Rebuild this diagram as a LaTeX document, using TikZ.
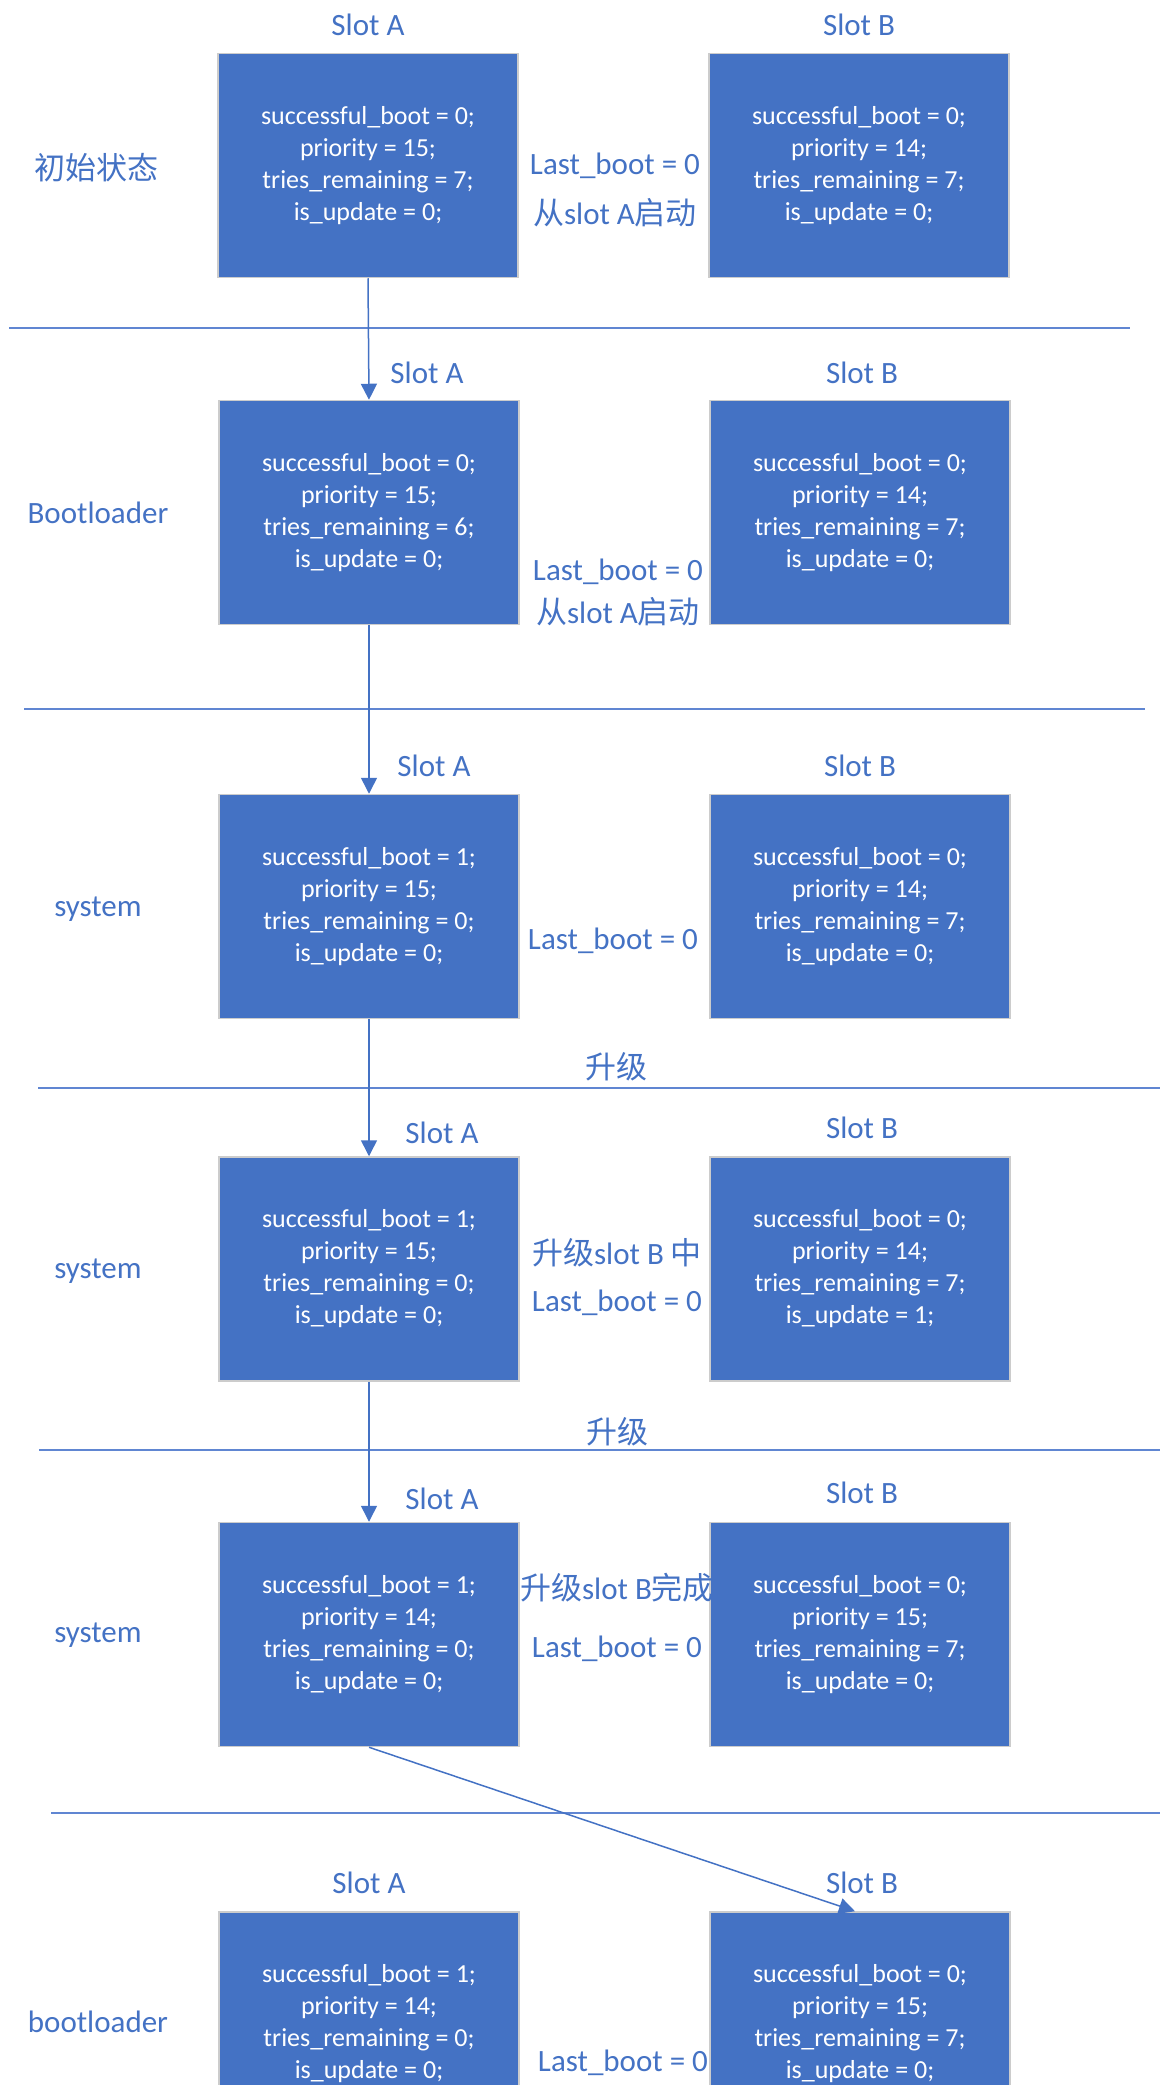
\documentclass[tikz,border=0pt]{standalone}
\usepackage{fontspec}
\setmainfont{Carlito}
\newfontfamily\cjk{Noto Sans CJK SC}
\usetikzlibrary{arrows.meta,positioning}
\definecolor{slotblue}{RGB}{68,114,196}
\definecolor{lineblue}{RGB}{96,134,210}
\tikzset{%
	slot/.style  = {draw=gray!40, line width=1.5pt, fill=slotblue, minimum width=300pt, minimum height=224pt, inner sep=0pt, text=white, align=center, font=\fontsize{26}{32}\selectfont},
	lbl/.style   = {text=slotblue, inner sep=0pt, font=\fontsize{31}{37}\selectfont},
	sep/.style   = {lineblue, line width=2.5pt},
	arrow/.style = {slotblue, line width=1.5pt, -{Triangle[width=16pt,length=16pt]}},
}
\begin{document}
\begin{tikzpicture}[x=1pt,y=-1pt]
	\useasboundingbox (0,0) rectangle (1160,2085);
	\clip (0,0) rectangle (1160,2085);

	\node[slot] (a1) at (368,165.5) {successful\_boot = 0;\\priority = 15;\\tries\_remaining = 7;\\is\_update = 0;};
	\node[slot] (b1) at (859,165.5) {successful\_boot = 0;\\priority = 14;\\tries\_remaining = 7;\\is\_update = 0;};
	\node[lbl] (sa1) at (368,25) {Slot A};
	\node[lbl] (sb1) at (859,25) {Slot B};
	\node[lbl] (st1) at (96,168) {\cjk 初始状态};
	\node[lbl] (lb1) at (615,166) {Last\_boot = 0};
	\node[lbl] (fr1) at (615,213) {{\cjk 从}slot A{\cjk 启动}};
	\draw[sep] (9,328) -- (1130,328);

	\node[slot] (a2) at (369,512.5) {successful\_boot = 0;\\priority = 15;\\tries\_remaining = 6;\\is\_update = 0;};
	\node[slot] (b2) at (860,512.5) {successful\_boot = 0;\\priority = 14;\\tries\_remaining = 7;\\is\_update = 0;};
	\node[lbl] (sa2) at (427,373) {Slot A};
	\node[lbl] (sb2) at (862,373) {Slot B};
	\node[lbl] (st2) at (98,513) {Bootloader};
	\node[lbl] (lb2) at (618,572) {Last\_boot = 0};
	\node[lbl] (fr2) at (618,612) {{\cjk 从}slot A{\cjk 启动}};
	\draw[sep] (24,709) -- (1145,709);

	\node[slot] (a3) at (369,906.5) {successful\_boot = 1;\\priority = 15;\\tries\_remaining = 0;\\is\_update = 0;};
	\node[slot] (b3) at (860,906.5) {successful\_boot = 0;\\priority = 14;\\tries\_remaining = 7;\\is\_update = 0;};
	\node[lbl] (sa3) at (434,766) {Slot A};
	\node[lbl] (sb3) at (860,766) {Slot B};
	\node[lbl] (st3) at (98,909) {system};
	\node[lbl] (lb3) at (613,941) {Last\_boot = 0};
	\node[lbl] (up3) at (616,1067) {\cjk 升级};
	\draw[sep] (38,1088) -- (1160,1088);

	\node[slot] (a4) at (369,1269) {successful\_boot = 1;\\priority = 15;\\tries\_remaining = 0;\\is\_update = 0;};
	\node[slot] (b4) at (860,1269) {successful\_boot = 0;\\priority = 14;\\tries\_remaining = 7;\\is\_update = 1;};
	\node[lbl] (sa4) at (442,1133) {Slot A};
	\node[lbl] (sb4) at (862,1128) {Slot B};
	\node[lbl] (st4) at (98,1271) {system};
	\node[lbl] (md4) at (617,1253) {{\cjk 升级}slot B {\cjk 中}};
	\node[lbl] (lb4) at (617,1303) {Last\_boot = 0};
	\node[lbl] (up4) at (617,1432) {\cjk 升级};
	\draw[sep] (39,1450) -- (1160,1450);

	\node[slot] (a5) at (369,1634.5) {successful\_boot = 1;\\priority = 14;\\tries\_remaining = 0;\\is\_update = 0;};
	\node[slot] (b5) at (860,1634.5) {successful\_boot = 0;\\priority = 15;\\tries\_remaining = 7;\\is\_update = 0;};
	\node[lbl] (sa5) at (442,1499) {Slot A};
	\node[lbl] (sb5) at (862,1493) {Slot B};
	\node[lbl] (st5) at (98,1635) {system};
	\node[lbl] (md5) at (617,1588) {{\cjk 升级}slot B{\cjk 完成}};
	\node[lbl] (lb5) at (617,1649) {Last\_boot = 0};
	\draw[sep] (51,1813) -- (1160,1813);

	\node[slot] (a6) at (369,2024) {successful\_boot = 1;\\priority = 14;\\tries\_remaining = 0;\\is\_update = 0;};
	\node[slot] (b6) at (860,2024) {successful\_boot = 0;\\priority = 15;\\tries\_remaining = 7;\\is\_update = 0;};
	\node[lbl] (sa6) at (369,1883) {Slot A};
	\node[lbl] (sb6) at (862,1883) {Slot B};
	\node[lbl] (st6) at (98,2022) {bootloader};
	\node[lbl] (lb6) at (623,2063) {Last\_boot = 0};

	\draw[arrow] (a1.south) -- (a2.north);
	\draw[arrow] (a2.south) -- (a3.north);
	\draw[arrow] (a3.south) -- (a4.north);
	\draw[arrow] (a4.south) -- (a5.north);
	\draw[arrow] (a5.south) -- ([xshift=-5pt]b6.north);
\end{tikzpicture}
\end{document}
